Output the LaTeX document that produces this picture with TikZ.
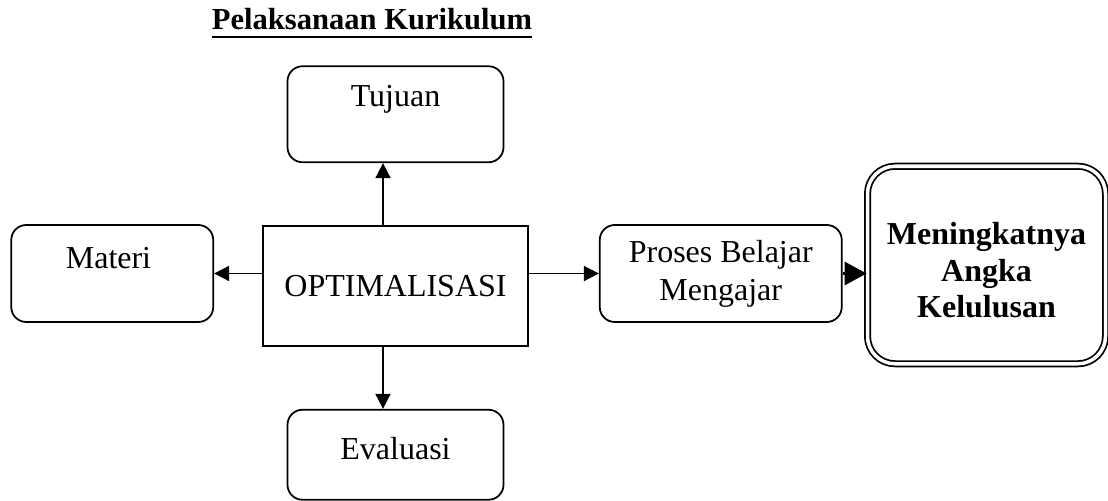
\documentclass[tikz,border=0pt]{standalone}
\usepackage{fontspec}
\setmainfont{Liberation Serif}
\usetikzlibrary{arrows.meta,positioning}

\newcommand{\garis}[1]{\vtop{\hbox{#1}\kern3pt\hrule height 1.1pt}}

\begin{document}
\begin{tikzpicture}[->,>={Triangle[length=0.3cm,width=0.3cm]},
  line width=0.035cm,font=\fontsize{18.2}{21.6}\selectfont,
  round box/.style={draw,rounded corners=0.3cm,inner xsep=0,inner ysep=0,align=center},
  main box/.style={draw,minimum width=5.3cm,minimum height=2.4cm},
  goal box/.style={draw,double,double distance=0.07cm,rounded corners=0.55cm,
    minimum width=4.76cm,minimum height=3.95cm,align=center,
    font=\fontsize{18.2}{21}\selectfont\bfseries}]
    \useasboundingbox (0,0) rectangle (22.16,-10.02);
    \node[font=\fontsize{17.4}{20}\selectfont\bfseries,anchor=base](judul) at (7.44,-0.6)
      {\garis{Pelaksanaan Kurikulum}};
    \node[main box](opt) at (7.91,-5.72){OPTIMALISASI};
    \node[round box,minimum width=4.32cm,text height=0.8cm,text depth=1.12cm,
      above=1.24cm of opt](tujuan){Tujuan};
    \node[round box,minimum width=4.32cm,text height=1.0cm,text depth=0.8cm,
      below=1.24cm of opt](evaluasi){Evaluasi};
    \node[round box,minimum width=4.04cm,text height=0.86cm,text depth=1.08cm,
      left=0.96cm of opt,yshift=0.25cm](materi){Materi\hspace{0.15cm}};
    \node[round box,minimum width=4.84cm,minimum height=1.94cm,
      right=1.4cm of opt,yshift=0.25cm](proses){Proses Belajar\\Mengajar};
    \node[goal box,right=0.48cm of proses,yshift=0.17cm](hasil)
      {\rule{0pt}{0.65cm}Meningkatnya\\Angka\\Kelulusan};

    \coordinate (atas) at ([xshift=-0.25cm]opt.north);
    \coordinate (bawah) at ([xshift=-0.25cm]opt.south);
    \draw (atas) -- (atas |- tujuan.south);
    \draw (bawah) -- (bawah |- evaluasi.north);
    \draw (opt.west |- materi) -- (materi);
    \draw (opt.east |- proses) -- (proses);
    \draw[line width=0.06cm,-{Triangle[length=0.44cm,width=0.46cm]}]
      (proses) -- (proses -| hasil.west);

\end{tikzpicture}
\end{document}
